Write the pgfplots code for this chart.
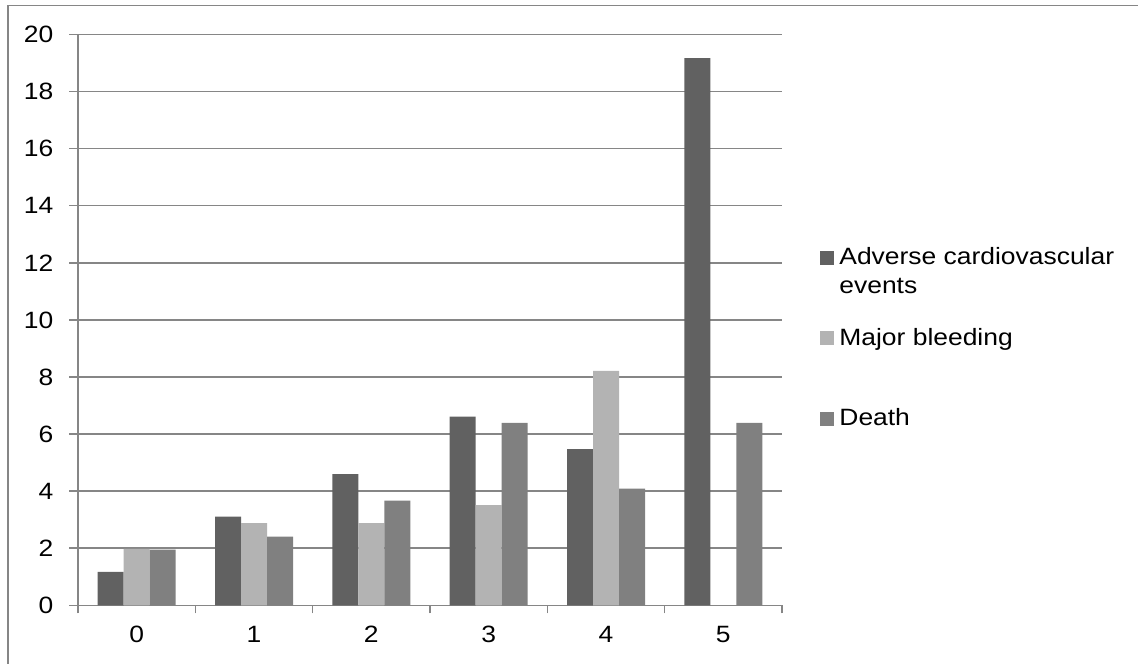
\documentclass[border=0pt]{standalone}
\usepackage{fontspec}
\setmainfont{Liberation Sans}[FakeStretch=1.12]
\usepackage{pgfplots}
\pgfplotsset{compat=1.18}
\definecolor{ace}{HTML}{616161}
\definecolor{mb}{HTML}{B3B3B3}
\definecolor{dth}{HTML}{808080}
\definecolor{gridc}{HTML}{868686}
\newcommand{\chartfont}{\fontsize{11.8}{14.2}\selectfont}

\begin{document}
\chartfont
\begin{tikzpicture}
\useasboundingbox (0,0) rectangle (569pt,331.5pt);
% outer chart frame
\draw[gridc, line width=0.75pt] (4pt,-10pt) -- (4pt,328.75pt) -- (600pt,328.75pt);
\begin{axis}[
  at={(39pt,28.85pt)}, anchor=south west,
  scale only axis, width=352pt, height=285.4pt,
  ybar=0pt, bar width=13pt,
  xmin=-0.5, xmax=5.5, ymin=0, ymax=20,
  xtick={0,...,5}, minor xtick={-0.5,0.5,...,5.5},
  ytick={0,2,...,20},
  axis x line*=bottom, axis y line*=left,
  axis line style={-, gridc, line width=0.75pt},
  ymajorgrids, grid style={gridc, line width=0.75pt},
  tick align=outside, major tick length=4.5pt, minor tick length=4pt,
  tick style={gridc, line width=0.75pt},
  major x tick style={draw=none},
  /pgf/number format/assume math mode=true,
  tick label style={font=\chartfont, black},
  yticklabel style={xshift=-3.7pt},
  xticklabel style={yshift=-1.75pt},
]
\addplot[fill=ace, draw=none]
  coordinates {(0,1.17) (1,3.11) (2,4.6) (3,6.61) (4,5.47) (5,19.17)};
\addplot[fill=mb, draw=none]
  coordinates {(0,1.98) (1,2.88) (2,2.88) (3,3.51) (4,8.21)};
\addplot[fill=dth, draw=none]
  coordinates {(0,1.95) (1,2.41) (2,3.67) (3,6.39) (4,4.09) (5,6.39)};
\end{axis}
% legend
\fill[ace] (410pt,199pt) rectangle +(7pt,7pt);
\fill[mb]  (410pt,158.8pt) rectangle +(7pt,7pt);
\fill[dth] (410pt,118.5pt) rectangle +(7pt,7pt);
\node[anchor=base west, inner sep=0pt] at (419.5pt,199pt)
  {\begin{tabular}[t]{@{}l@{}}Adverse cardiovascular\\events\end{tabular}};
\node[anchor=base west, inner sep=0pt] at (419.5pt,158.5pt) {Major bleeding};
\node[anchor=base west, inner sep=0pt] at (419.5pt,118.5pt) {Death};
\end{tikzpicture}
\end{document}
